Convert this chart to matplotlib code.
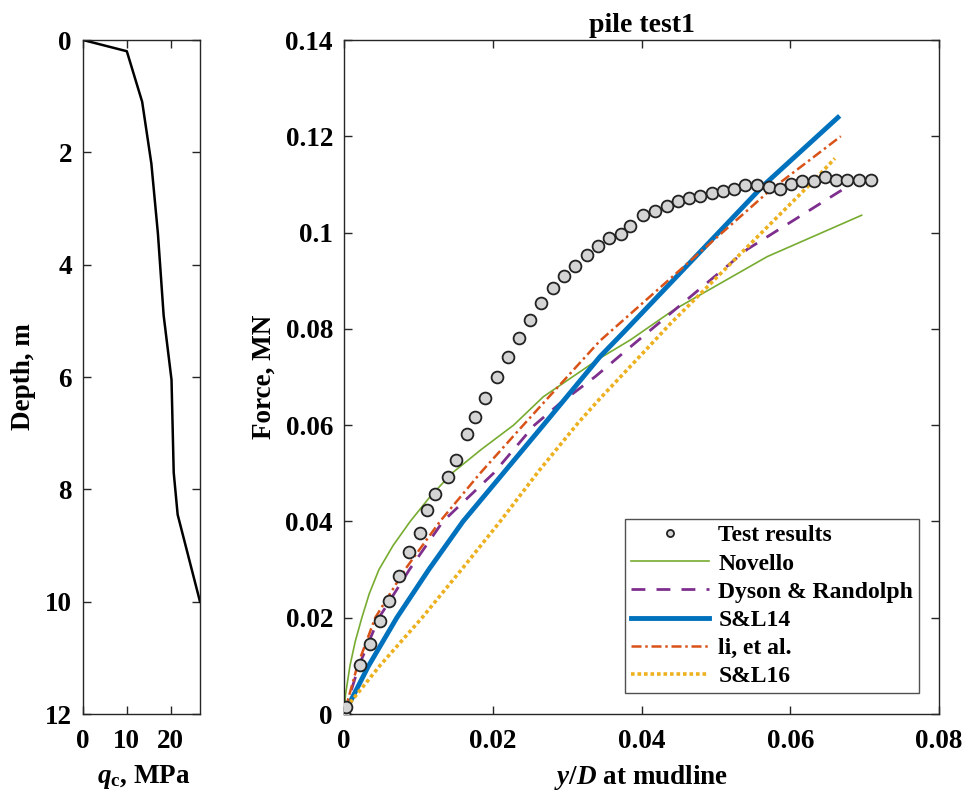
import matplotlib
matplotlib.use("Agg")
import matplotlib.pyplot as plt
import numpy as np

plt.rcParams['font.family'] = ['Liberation Serif', 'DejaVu Serif']
plt.rcParams['font.weight'] = 'bold'
plt.rcParams['mathtext.fontset'] = 'custom'
plt.rcParams['mathtext.rm'] = 'Liberation Serif:bold'
plt.rcParams['mathtext.it'] = 'Liberation Serif:italic:bold'
plt.rcParams['mathtext.bf'] = 'Liberation Serif:bold'

# ---- CPT profile ----
qc = [0, 10.0, 13.5, 15.6, 17.1, 18.4, 20.2, 20.7, 21.6, 26.7]
depth = [0, 0.2, 1.1, 2.2, 3.45, 4.9, 6.05, 7.7, 8.45, 10.0]

# ---- Test results ----
test_x = [0, 0.0003, 0.00215, 0.00354, 0.00488, 0.0061, 0.00735, 0.00874, 0.01022,
          0.0112, 0.01228, 0.01399, 0.01511, 0.0165, 0.01758, 0.01901, 0.02058,
          0.02206, 0.0235, 0.02502, 0.02654, 0.02807, 0.02963, 0.03111, 0.03264,
          0.03416, 0.03568, 0.03726, 0.03847, 0.04026, 0.04183, 0.0434, 0.04488,
          0.0464, 0.04788, 0.04946, 0.05102, 0.0525, 0.05398, 0.05551, 0.05712,
          0.05864, 0.06012, 0.06164, 0.06321, 0.06469, 0.06617, 0.06769, 0.06927,
          0.07079]
test_y = [0, 0.0015, 0.0102, 0.01448, 0.01925, 0.02348, 0.02858, 0.03356, 0.03765,
          0.04235, 0.04567, 0.04933, 0.05279, 0.05812, 0.06177, 0.06559, 0.07007,
          0.07409, 0.07816, 0.08183, 0.08542, 0.0884, 0.09096, 0.0931, 0.09531,
          0.09718, 0.0989, 0.0996, 0.10133, 0.1036, 0.1045, 0.1055, 0.1065,
          0.1071, 0.1076, 0.1082, 0.1087, 0.1091, 0.1098, 0.1098, 0.1094,
          0.1091, 0.1100, 0.1107, 0.1107, 0.1116, 0.1110, 0.1109, 0.1109,
          0.1109]

# ---- Models ----
novello_x = [0, 0.0002, 0.0008, 0.0015, 0.0024, 0.0034, 0.0047, 0.0066, 0.0089,
             0.0115, 0.0145, 0.0185, 0.0228, 0.0268, 0.0344, 0.0385, 0.0443,
             0.0569, 0.0696]
novello_y = [0, 0.004, 0.010, 0.015, 0.020, 0.025, 0.030, 0.035, 0.040,
             0.045, 0.050, 0.055, 0.060, 0.0659, 0.0739, 0.0777, 0.0839,
             0.0950, 0.1036]

dyson_x = [0, 0.0020, 0.0047, 0.0088, 0.0133, 0.0201, 0.0256, 0.0291, 0.0338,
           0.0380, 0.0542, 0.0669]
dyson_y = [0, 0.010, 0.020, 0.030, 0.040, 0.050, 0.060, 0.0646, 0.0701,
           0.0756, 0.0965, 0.1088]

sl14_x = [0, 0.0033, 0.0071, 0.0114, 0.0160, 0.0214, 0.0268, 0.0344, 0.0376,
          0.0564, 0.0664]
sl14_y = [0, 0.010, 0.020, 0.030, 0.040, 0.050, 0.060, 0.0742, 0.0793,
          0.1098, 0.1239]

li_x = [0, 0.0018, 0.0042, 0.0082, 0.0129, 0.0183, 0.0241, 0.0344, 0.0385,
        0.0573, 0.0668]
li_y = [0, 0.010, 0.020, 0.030, 0.040, 0.050, 0.060, 0.0775, 0.0831,
        0.1088, 0.1200]

sl16_x = [0, 0.0008, 0.0048, 0.0105, 0.0158, 0.0210, 0.0262, 0.0315, 0.0344,
          0.0385, 0.0439, 0.0537, 0.0631, 0.0660]
sl16_y = [0, 0.0023, 0.010, 0.020, 0.030, 0.040, 0.0505, 0.0605, 0.0655,
          0.0722, 0.0811, 0.0962, 0.1107, 0.1154]

W, H = 967, 796
fig = plt.figure(figsize=(W / 100, H / 100), dpi=100)

axc = '#262626'
fs = 19.5

def style(ax):
    for s in ax.spines.values():
        s.set_color(axc)
        s.set_linewidth(1.0)
    ax.tick_params(direction='in', top=True, right=True, length=6, width=1,
                   colors=axc, labelsize=fs, labelcolor='black')
    ax.tick_params(axis='y', pad=8)
    ax.tick_params(axis='x', pad=11)
    for lab in ax.get_xticklabels() + ax.get_yticklabels():
        lab.set_fontweight('bold')

# Left axes
ax1 = fig.add_axes([83 / W, 1 - 714 / H, 117 / W, 674 / H])
ax1.plot(qc, depth, color='black', lw=1.8)
ax1.set_xlim(0, 26.7)
ax1.set_ylim(12, 0)
ax1.set_xticks([0, 10, 20])
ax1.set_yticks([0, 2, 4, 6, 8, 10, 12])
style(ax1)
ax1.set_ylabel('Depth, m', fontsize=fs, fontweight='bold')
ax1.yaxis.set_label_coords((36 - 83) / 117, 0.5)
ax1.set_xlabel(r'$q_{\mathrm{c}}$, MPa', fontsize=fs, fontweight='bold')
ax1.xaxis.set_label_coords(0.52, -0.072)

# Right axes
ax2 = fig.add_axes([344 / W, 1 - 714 / H, 595 / W, 674 / H])
ax2.plot(test_x, test_y, 'o', ms=8.5, mfc='#d4d4d4', mec='#222222', mew=1.3,
         label='Test results', zorder=5)
ax2.plot(novello_x, novello_y, color='#77AC30', lw=1.2, label='Novello')
ax2.plot(dyson_x, dyson_y, color='#7E2F8E', lw=2, ls=(0, (5, 4)),
         label='Dyson & Randolph')
ax2.plot(sl14_x, sl14_y, color='#0072BD', lw=3.5, label='S&L14')
ax2.plot(li_x, li_y, color='#D95319', lw=1.8, ls=(0, (4, 1.5, 1, 1.5)),
         label='li, et al.')
ax2.plot(sl16_x, sl16_y, color='#EDB120', lw=2.6, ls=(0, (1, 0.8)), label='S&L16')
ax2.set_xlim(0, 0.08)
ax2.set_ylim(0, 0.14)
ax2.set_xticks([0, 0.02, 0.04, 0.06, 0.08])
ax2.set_xticklabels(['0', '0.02', '0.04', '0.06', '0.08'])
ax2.set_yticks([0, 0.02, 0.04, 0.06, 0.08, 0.1, 0.12, 0.14])
ax2.set_yticklabels(['0', '0.02', '0.04', '0.06', '0.08', '0.1', '0.12', '0.14'])
style(ax2)
ax2.set_title('pile test1', fontsize=20, fontweight='bold', pad=6)
ax2.set_ylabel('Force, MN', fontsize=fs, fontweight='bold')
ax2.yaxis.set_label_coords((277 - 344) / 595, 0.5)
ax2.set_xlabel(r'$y/D$ at mudline', fontsize=fs, fontweight='bold')
ax2.xaxis.set_label_coords(0.5, -0.072)

leg = ax2.legend(loc='lower right', bbox_to_anchor=((919 - 344) / 595, 21 / 674),
                 borderaxespad=0,
                 prop={'family': 'Liberation Serif', 'weight': 'bold', 'size': 17},
                 frameon=True, fancybox=False, edgecolor=axc, handlelength=3.3,
                 borderpad=0.25, labelspacing=0.28, handletextpad=0.4,
                 markerscale=0.6)
leg.get_frame().set_linewidth(1.0)

fig.savefig('out.png', dpi=100)
